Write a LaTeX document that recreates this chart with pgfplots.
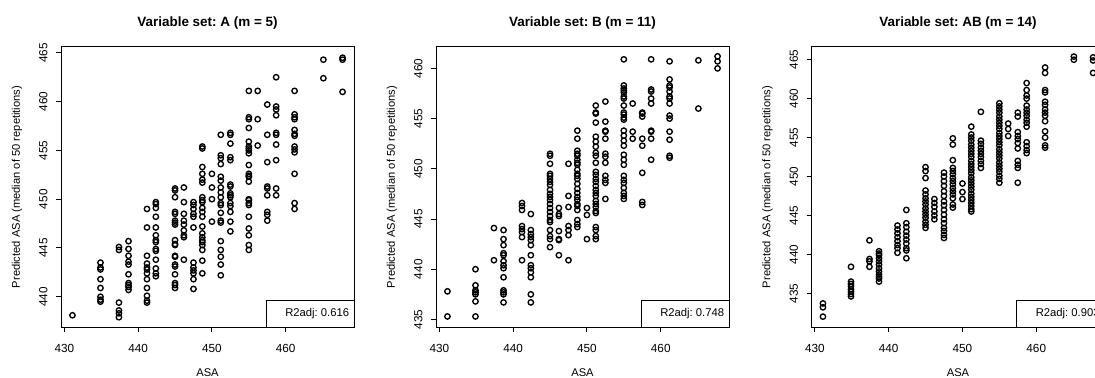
\documentclass[border=0pt]{standalone}
\usepackage{fontspec}
\setmainfont{Liberation Sans}
\usepackage{pgfplots}
\pgfplotsset{compat=1.18}
\usepackage{pgfplotstable}
\frenchspacing

\pgfplotstableread[row sep=\\]{
x y\\
431.1 438.1\\
434.9 443.5\\ 434.9 443.0\\ 434.9 442.8\\ 434.9 441.8\\ 434.9 440.9\\ 434.9 440.0\\ 434.9 439.7\\ 434.9 439.5\\
437.4 445.1\\ 437.4 444.8\\ 437.4 439.4\\ 437.4 438.6\\ 437.4 438.3\\ 437.4 437.9\\
438.7 445.7\\ 438.7 444.9\\ 438.7 444.2\\ 438.7 443.6\\ 438.7 443.3\\ 438.7 442.3\\ 438.7 441.4\\ 438.7 441.2\\ 438.7 441.0\\ 438.7 440.7\\
441.2 449.0\\ 441.2 447.1\\ 441.2 444.2\\ 441.2 443.4\\ 441.2 443.0\\ 441.2 442.8\\ 441.2 442.4\\ 441.2 441.8\\ 441.2 440.9\\ 441.2 440.1\\ 441.2 439.6\\ 441.2 439.4\\
442.4 449.7\\ 442.4 449.5\\ 442.4 449.1\\ 442.4 448.2\\ 442.4 447.1\\ 442.4 446.3\\ 442.4 445.8\\ 442.4 445.6\\ 442.4 444.9\\ 442.4 444.7\\ 442.4 443.8\\ 442.4 442.9\\ 442.4 442.4\\ 442.4 442.1\\
445.0 451.1\\ 445.0 450.9\\ 445.0 450.2\\ 445.0 448.7\\ 445.0 448.5\\ 445.0 447.8\\ 445.0 447.6\\ 445.0 447.4\\ 445.0 445.8\\ 445.0 445.4\\ 445.0 445.3\\ 445.0 444.2\\ 445.0 444.1\\ 445.0 443.3\\ 445.0 443.1\\ 445.0 442.3\\ 445.0 441.4\\ 445.0 441.2\\ 445.0 440.9\\
446.2 451.2\\ 446.2 449.7\\ 446.2 448.5\\ 446.2 447.8\\ 446.2 447.4\\ 446.2 446.8\\ 446.2 446.3\\ 446.2 446.1\\ 446.2 443.8\\
447.5 449.7\\ 447.5 449.4\\ 447.5 449.0\\ 447.5 448.5\\ 447.5 448.2\\ 447.5 447.1\\ 447.5 443.5\\ 447.5 443.0\\ 447.5 442.7\\ 447.5 442.4\\ 447.5 441.8\\ 447.5 440.8\\
448.7 455.4\\ 448.7 455.2\\ 448.7 453.3\\ 448.7 452.6\\ 448.7 452.0\\ 448.7 451.7\\ 448.7 450.2\\ 448.7 449.9\\ 448.7 449.7\\ 448.7 449.1\\ 448.7 448.7\\ 448.7 448.2\\ 448.7 447.2\\ 448.7 446.5\\ 448.7 446.1\\ 448.7 445.8\\ 448.7 445.6\\ 448.7 445.3\\ 448.7 444.8\\ 448.7 443.7\\ 448.7 442.4\\
450.0 452.6\\ 450.0 451.2\\ 450.0 450.0\\ 450.0 447.7\\
451.2 456.6\\ 451.2 454.5\\ 451.2 454.2\\ 451.2 453.6\\ 451.2 452.3\\ 451.2 451.9\\ 451.2 451.2\\ 451.2 450.7\\ 451.2 450.2\\ 451.2 449.6\\ 451.2 449.4\\ 451.2 448.6\\ 451.2 447.8\\ 451.2 447.6\\ 451.2 445.7\\ 451.2 444.8\\ 451.2 444.1\\ 451.2 443.3\\ 451.2 442.2\\
452.5 456.8\\ 452.5 456.6\\ 452.5 455.7\\ 452.5 454.3\\ 452.5 454.0\\ 452.5 451.5\\ 452.5 451.3\\ 452.5 450.6\\ 452.5 450.4\\ 452.5 450.2\\ 452.5 449.6\\ 452.5 449.3\\ 452.5 448.7\\ 452.5 447.7\\ 452.5 446.7\\
455.0 461.1\\ 455.0 458.4\\ 455.0 458.2\\ 455.0 457.3\\ 455.0 455.9\\ 455.0 455.4\\ 455.0 455.2\\ 455.0 455.0\\ 455.0 454.7\\ 455.0 453.5\\ 455.0 452.6\\ 455.0 452.4\\ 455.0 452.3\\ 455.0 451.8\\ 455.0 450.0\\ 455.0 449.9\\ 455.0 449.6\\ 455.0 449.4\\ 455.0 448.2\\ 455.0 447.0\\ 455.0 446.3\\ 455.0 445.3\\ 455.0 444.8\\
456.2 461.1\\ 456.2 458.2\\ 456.2 455.5\\
457.5 459.7\\ 457.5 456.6\\ 457.5 453.8\\ 457.5 451.3\\ 457.5 451.1\\ 457.5 450.4\\ 457.5 448.7\\ 457.5 448.4\\ 457.5 447.8\\
458.7 462.5\\ 458.7 459.5\\ 458.7 459.2\\ 458.7 458.6\\ 458.7 456.8\\ 458.7 456.6\\ 458.7 455.6\\ 458.7 454.0\\ 458.7 451.1\\ 458.7 450.4\\
461.2 461.1\\ 461.2 458.7\\ 461.2 458.4\\ 461.2 458.2\\ 461.2 457.1\\ 461.2 456.7\\ 461.2 456.5\\ 461.2 455.4\\ 461.2 455.1\\ 461.2 454.8\\ 461.2 452.6\\ 461.2 449.6\\ 461.2 449.0\\
465.1 464.3\\ 465.1 462.4\\
467.7 464.5\\ 467.7 464.3\\ 467.7 461.0\\
}\dataA

\pgfplotstableread[row sep=\\]{
x y\\
431.1 437.8\\ 431.1 435.3\\
434.9 440.0\\ 434.9 438.4\\ 434.9 437.9\\ 434.9 437.7\\ 434.9 437.5\\ 434.9 436.8\\ 434.9 435.3\\
437.4 444.1\\ 437.4 440.9\\
438.7 443.9\\ 438.7 443.0\\ 438.7 442.4\\ 438.7 441.6\\ 438.7 441.4\\ 438.7 440.8\\ 438.7 440.4\\ 438.7 440.1\\ 438.7 439.2\\ 438.7 437.9\\ 438.7 437.7\\ 438.7 437.5\\ 438.7 436.7\\
441.2 446.6\\ 441.2 446.3\\ 441.2 445.9\\ 441.2 444.3\\ 441.2 444.0\\ 441.2 443.7\\ 441.2 443.2\\ 441.2 440.9\\
442.4 445.5\\ 442.4 443.9\\ 442.4 443.5\\ 442.4 443.2\\ 442.4 442.9\\ 442.4 442.4\\ 442.4 441.4\\ 442.4 440.4\\ 442.4 440.1\\ 442.4 439.7\\ 442.4 439.2\\ 442.4 437.5\\ 442.4 436.7\\
445.0 451.5\\ 445.0 451.3\\ 445.0 450.5\\ 445.0 449.5\\ 445.0 449.3\\ 445.0 449.0\\ 445.0 448.7\\ 445.0 448.4\\ 445.0 447.9\\ 445.0 447.5\\ 445.0 447.2\\ 445.0 446.9\\ 445.0 446.5\\ 445.0 446.1\\ 445.0 445.7\\ 445.0 445.3\\ 445.0 444.9\\ 445.0 444.7\\ 445.0 443.9\\ 445.0 443.3\\ 445.0 443.0\\ 445.0 442.2\\
446.2 446.1\\ 446.2 445.5\\ 446.2 445.3\\ 446.2 443.8\\ 446.2 443.0\\ 446.2 442.9\\ 446.2 441.4\\
447.5 450.5\\ 447.5 447.3\\ 447.5 446.2\\ 447.5 444.3\\ 447.5 443.9\\ 447.5 443.4\\ 447.5 440.9\\
448.7 453.8\\ 448.7 453.0\\ 448.7 451.8\\ 448.7 451.5\\ 448.7 451.3\\ 448.7 450.9\\ 448.7 450.6\\ 448.7 450.4\\ 448.7 449.9\\ 448.7 449.5\\ 448.7 449.3\\ 448.7 449.0\\ 448.7 448.5\\ 448.7 448.0\\ 448.7 447.6\\ 448.7 447.2\\ 448.7 446.9\\ 448.7 446.5\\ 448.7 446.3\\ 448.7 445.9\\ 448.7 444.9\\ 448.7 444.5\\ 448.7 444.2\\
450.0 446.1\\ 450.0 445.4\\ 450.0 443.0\\
451.2 456.3\\ 451.2 455.6\\ 451.2 455.5\\ 451.2 454.6\\ 451.2 453.2\\ 451.2 452.7\\ 451.2 452.2\\ 451.2 451.6\\ 451.2 451.3\\ 451.2 450.6\\ 451.2 449.7\\ 451.2 449.4\\ 451.2 449.0\\ 451.2 448.7\\ 451.2 448.3\\ 451.2 447.9\\ 451.2 447.6\\ 451.2 447.3\\ 451.2 446.8\\ 451.2 446.5\\ 451.2 446.2\\ 451.2 445.8\\ 451.2 445.6\\ 451.2 444.2\\ 451.2 443.9\\ 451.2 443.3\\ 451.2 443.0\\
452.5 456.7\\ 452.5 454.7\\ 452.5 453.8\\ 452.5 453.7\\ 452.5 453.0\\ 452.5 451.5\\ 452.5 451.2\\ 452.5 450.6\\ 452.5 449.3\\ 452.5 448.9\\ 452.5 448.6\\ 452.5 447.0\\
455.0 460.9\\ 455.0 458.3\\ 455.0 458.0\\ 455.0 457.8\\ 455.0 457.6\\ 455.0 457.2\\ 455.0 457.0\\ 455.0 456.3\\ 455.0 455.6\\ 455.0 455.4\\ 455.0 455.1\\ 455.0 454.9\\ 455.0 453.8\\ 455.0 453.3\\ 455.0 452.8\\ 455.0 452.3\\ 455.0 451.4\\ 455.0 450.9\\ 455.0 450.4\\ 455.0 449.3\\ 455.0 448.9\\ 455.0 448.6\\ 455.0 448.1\\ 455.0 447.6\\ 455.0 447.3\\ 455.0 447.0\\
456.2 456.5\\ 456.2 453.7\\ 456.2 453.0\\
457.5 455.6\\ 457.5 455.5\\ 457.5 455.2\\ 457.5 453.0\\ 457.5 452.3\\ 457.5 449.6\\ 457.5 446.7\\ 457.5 446.4\\
458.7 460.9\\ 458.7 457.9\\ 458.7 457.7\\ 458.7 457.0\\ 458.7 456.5\\ 458.7 453.8\\ 458.7 453.7\\ 458.7 453.0\\ 458.7 450.9\\
461.2 460.7\\ 461.2 458.9\\ 461.2 458.3\\ 461.2 458.1\\ 461.2 457.7\\ 461.2 457.2\\ 461.2 457.0\\ 461.2 456.5\\ 461.2 455.3\\ 461.2 455.0\\ 461.2 453.7\\ 461.2 452.9\\ 461.2 451.3\\ 461.2 451.1\\
465.1 460.8\\ 465.1 456.0\\
467.7 461.2\\ 467.7 460.7\\ 467.7 460.0\\
}\dataB

\pgfplotstableread[row sep=\\]{
x y\\
431.1 433.7\\ 431.1 433.2\\ 431.1 432.0\\
434.9 438.4\\ 434.9 436.5\\ 434.9 436.2\\ 434.9 435.9\\ 434.9 435.5\\ 434.9 435.2\\ 434.9 434.9\\ 434.9 434.6\\
437.4 441.8\\ 437.4 439.4\\ 437.4 439.1\\ 437.4 438.4\\
438.7 440.4\\ 438.7 440.1\\ 438.7 439.9\\ 438.7 439.5\\ 438.7 439.1\\ 438.7 438.7\\ 438.7 438.2\\ 438.7 437.8\\ 438.7 437.4\\ 438.7 437.1\\ 438.7 436.9\\ 438.7 436.5\\
441.2 443.7\\ 441.2 443.2\\ 441.2 442.7\\ 441.2 442.2\\ 441.2 441.7\\ 441.2 441.2\\ 441.2 440.8\\ 441.2 440.2\\
442.4 445.7\\ 442.4 444.0\\ 442.4 443.5\\ 442.4 442.9\\ 442.4 442.4\\ 442.4 441.9\\ 442.4 441.4\\ 442.4 440.8\\ 442.4 440.5\\ 442.4 439.5\\
445.0 451.2\\ 445.0 450.7\\ 445.0 449.8\\ 445.0 448.2\\ 445.0 447.7\\ 445.0 447.2\\ 445.0 446.8\\ 445.0 446.4\\ 445.0 445.9\\ 445.0 445.5\\ 445.0 445.1\\ 445.0 444.7\\ 445.0 444.2\\ 445.0 443.8\\ 445.0 443.4\\
446.2 447.1\\ 446.2 446.6\\ 446.2 446.1\\ 446.2 445.5\\ 446.2 445.0\\ 446.2 444.5\\
447.5 450.5\\ 447.5 450.0\\ 447.5 449.4\\ 447.5 448.8\\ 447.5 448.1\\ 447.5 447.5\\ 447.5 446.8\\ 447.5 446.3\\ 447.5 445.7\\ 447.5 445.1\\ 447.5 444.5\\ 447.5 444.0\\ 447.5 443.4\\ 447.5 443.0\\ 447.5 442.5\\ 447.5 442.1\\
448.7 454.9\\ 448.7 454.1\\ 448.7 452.1\\ 448.7 451.1\\ 448.7 450.7\\ 448.7 450.3\\ 448.7 449.8\\ 448.7 449.4\\ 448.7 449.0\\ 448.7 448.5\\ 448.7 448.1\\ 448.7 447.7\\ 448.7 447.2\\ 448.7 446.4\\ 448.7 446.0\\
450.0 449.1\\ 450.0 448.0\\ 450.0 447.1\\
451.2 456.4\\ 451.2 455.4\\ 451.2 455.0\\ 451.2 454.6\\ 451.2 454.1\\ 451.2 453.7\\ 451.2 453.3\\ 451.2 452.9\\ 451.2 452.5\\ 451.2 452.0\\ 451.2 451.6\\ 451.2 451.2\\ 451.2 450.8\\ 451.2 450.4\\ 451.2 449.9\\ 451.2 449.5\\ 451.2 449.1\\ 451.2 448.7\\ 451.2 448.3\\ 451.2 447.8\\ 451.2 447.4\\ 451.2 447.0\\ 451.2 446.6\\ 451.2 446.2\\ 451.2 445.8\\ 451.2 445.5\\
452.5 458.3\\ 452.5 454.6\\ 452.5 454.2\\ 452.5 453.7\\ 452.5 453.3\\ 452.5 452.9\\ 452.5 452.5\\ 452.5 452.0\\ 452.5 451.6\\ 452.5 451.1\\
455.0 459.4\\ 455.0 459.0\\ 455.0 458.6\\ 455.0 458.2\\ 455.0 457.7\\ 455.0 457.3\\ 455.0 456.9\\ 455.0 456.5\\ 455.0 456.1\\ 455.0 455.6\\ 455.0 455.2\\ 455.0 454.8\\ 455.0 454.4\\ 455.0 454.0\\ 455.0 453.5\\ 455.0 453.1\\ 455.0 452.7\\ 455.0 452.3\\ 455.0 451.8\\ 455.0 451.4\\ 455.0 451.0\\ 455.0 450.6\\ 455.0 450.1\\ 455.0 449.7\\ 455.0 449.2\\
456.2 456.8\\ 456.2 456.1\\ 456.2 455.2\\
457.5 458.2\\ 457.5 457.7\\ 457.5 455.7\\ 457.5 455.2\\ 457.5 454.8\\ 457.5 454.3\\ 457.5 453.6\\ 457.5 452.0\\ 457.5 451.5\\ 457.5 451.1\\ 457.5 449.2\\
458.7 462.0\\ 458.7 461.1\\ 458.7 460.4\\ 458.7 460.0\\ 458.7 459.1\\ 458.7 458.6\\ 458.7 458.2\\ 458.7 457.8\\ 458.7 457.3\\ 458.7 456.9\\ 458.7 456.4\\ 458.7 454.4\\ 458.7 453.9\\ 458.7 453.4\\ 458.7 453.0\\
461.2 464.0\\ 461.2 463.3\\ 461.2 461.1\\ 461.2 460.8\\ 461.2 459.6\\ 461.2 459.2\\ 461.2 458.6\\ 461.2 458.2\\ 461.2 457.8\\ 461.2 457.1\\ 461.2 455.8\\ 461.2 455.0\\ 461.2 454.0\\ 461.2 453.7\\
465.1 465.4\\ 465.1 465.0\\
467.7 465.3\\ 467.7 464.9\\ 467.7 463.3\\
}\dataAB

\pgfplotsset{
  rstyle/.style={
    scale only axis, width=293bp, height=280bp, anchor=south west,
    xmin=429.55, xmax=469.25,
    xtick={430,440,450,460},
    tick align=outside, xtick pos=left, ytick pos=left,
    major tick length=5bp,
    axis line style={line width=1bp},
    every tick/.style={black, line width=1bp},
    /pgf/number format/assume math mode=true,
    ticklabel style={font=\fontsize{11.8}{13}\selectfont},
    xticklabel style={yshift=-9bp},
    yticklabel style={rotate=90, anchor=south, yshift=5bp},
    title style={at={(axis description cs:0.5,1)}, anchor=center, yshift=18bp, font=\bfseries\fontsize{13.5}{16}\selectfont},
    xlabel style={at={(axis description cs:0.5,0)}, anchor=center, yshift=-46bp, font=\fontsize{11.2}{13}\selectfont},
    ylabel style={at={(axis description cs:0,0.5)}, anchor=center, yshift=44bp, font=\fontsize{11.2}{13}\selectfont},
    xlabel={ASA},
    ylabel={Predicted ASA (median of 50 repetitions)},
  },
  rmarks/.style={only marks, mark=o, mark size=2.7bp, black, mark options={line width=1.35bp}},
}

\begin{document}
\frenchspacing
\begin{tikzpicture}
\path[use as bounding box] (0,0) rectangle (1095bp,378bp);
\clip (0,0) rectangle (1095bp,378bp);
\begin{axis}[rstyle, at={(61bp,51bp)}, ymin=436.9, ymax=465.6, ytick={440,445,...,465},
  title={Variable set: A (m = 5)}]
\addplot[rmarks] table[x=x,y=y] {\dataA};
\draw[line width=1bp, fill=white] (rel axis cs:0.7,0) rectangle (rel axis cs:1,0.0964);
\node[anchor=east, inner sep=0pt, font=\fontsize{11.3}{13}\selectfont] at (rel axis cs:0.984,0.048) {R2adj: 0.616};
\end{axis}
\begin{axis}[rstyle, at={(436bp,51bp)}, ymin=434.25, ymax=462.13, ytick={435,440,...,460},
  title={Variable set: B (m = 11)}]
\addplot[rmarks] table[x=x,y=y] {\dataB};
\draw[line width=1bp, fill=white] (rel axis cs:0.7,0) rectangle (rel axis cs:1,0.0964);
\node[anchor=east, inner sep=0pt, font=\fontsize{11.3}{13}\selectfont] at (rel axis cs:0.984,0.048) {R2adj: 0.748};
\end{axis}
\begin{axis}[rstyle, at={(811.5bp,51bp)}, ymin=430.67, ymax=466.63, ytick={435,440,...,465},
  title={Variable set: AB (m = 14)}]
\addplot[rmarks] table[x=x,y=y] {\dataAB};
\draw[line width=1bp, fill=white] (rel axis cs:0.7,0) rectangle (rel axis cs:1,0.0964);
\node[anchor=east, inner sep=0pt, font=\fontsize{11.3}{13}\selectfont] at (rel axis cs:0.984,0.048) {R2adj: 0.903};
\end{axis}
\end{tikzpicture}
\end{document}
